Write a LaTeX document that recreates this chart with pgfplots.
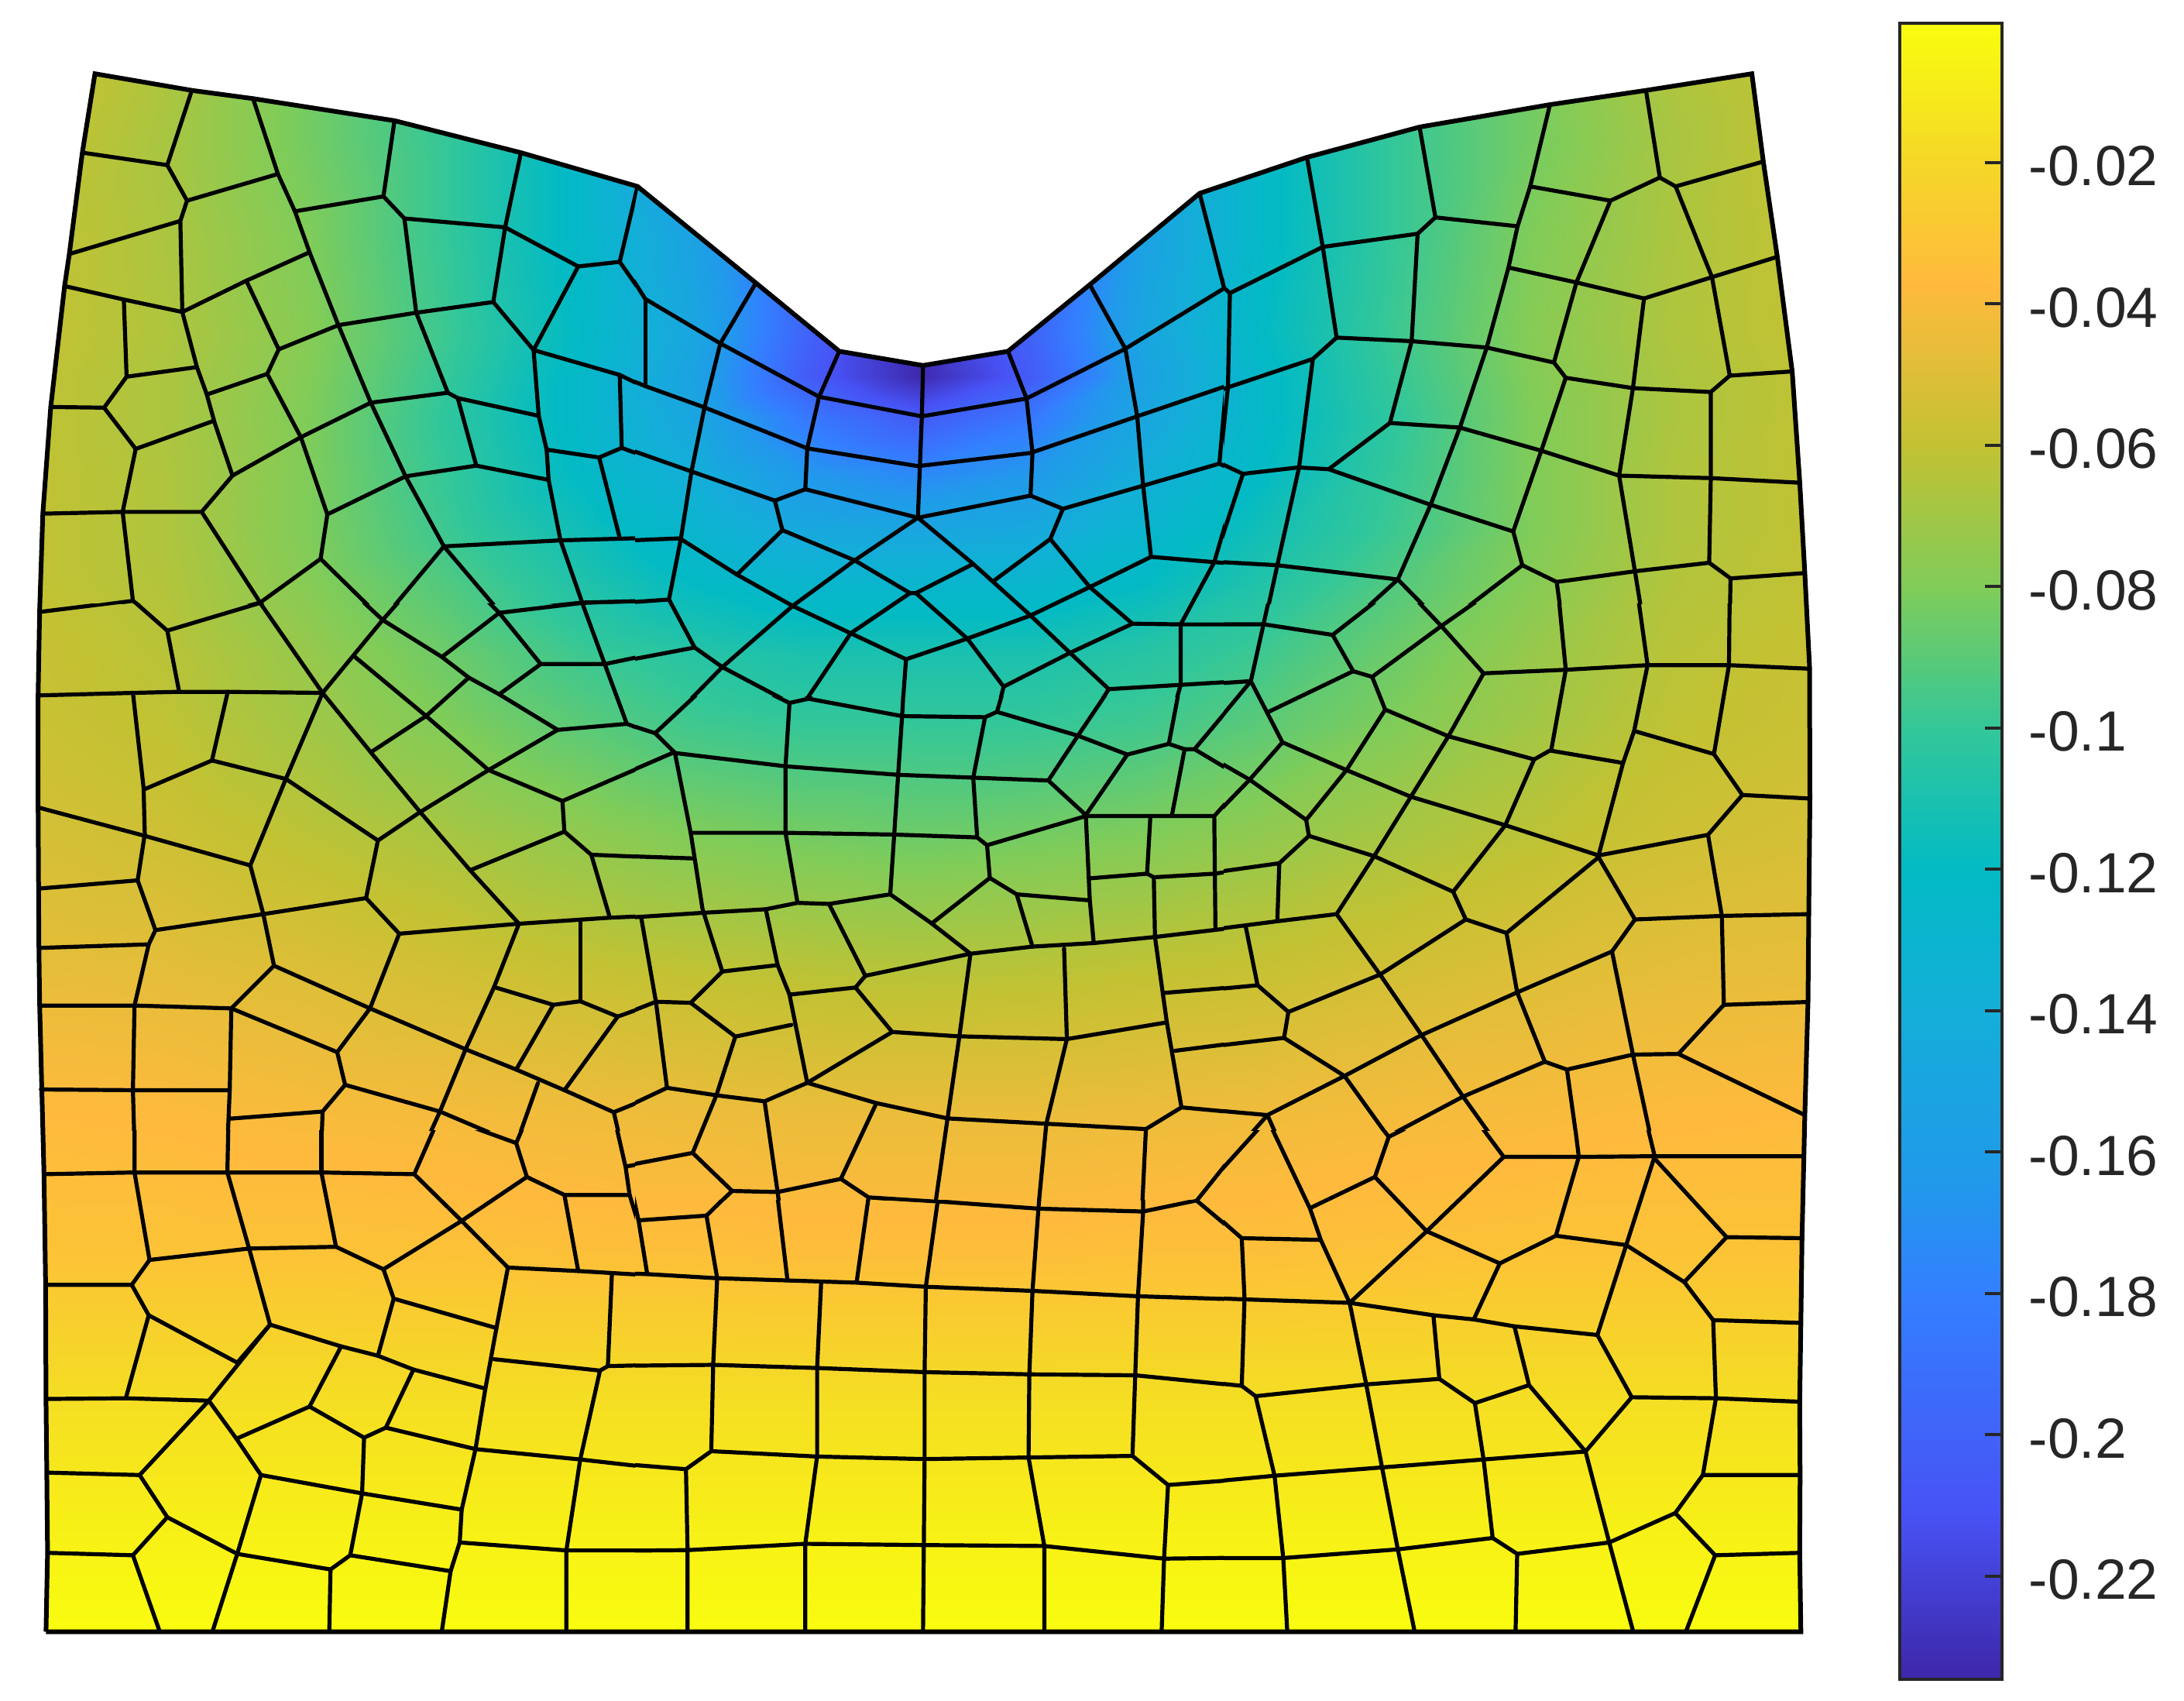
\documentclass[border=0pt]{standalone}
\usepackage{pgfplots}
\pgfplotsset{compat=1.18}
\usepackage{fontspec}
\setmainfont{Liberation Sans}
\definecolor{bargray}{rgb}{0.15,0.15,0.15}
\pgfplotsset{
  colormap={parula}{rgb(0pt)=(.2422,.1504,.6603) rgb(100pt)=(.2810,.3228,.9578) rgb(233pt)=(.2,.5,1) rgb(300pt)=(.13,.6,.92) rgb(400pt)=(.08,.68,.85) rgb(488pt)=(.01,.73,.77) rgb(574pt)=(.2,.78,.6) rgb(659pt)=(.5,.8,.35) rgb(744pt)=(.76,.76,.2) rgb(842pt)=(1,.73,.24) rgb(920pt)=(.96,.85,.15) rgb(1000pt)=(.976,.995,.055)},
  ml/.style={black,line width=1.3pt,line join=round,line cap=round,no marks,forget plot},
  sheet/.style={anchor=south west,scale only axis,y dir=reverse,hide axis},
}
% mesh lines are typed in the coordinates of nine crops of the picture
\newcommand{\seg}[4]{\addplot[ml,x filter/.expression={#1+x*800/1568},y filter/.expression={#2+y*#3/1568}] coordinates {#4};}
\newcommand{\ca}[1]{\seg{40}{80}{720}{#1}}
\newcommand{\cb}[1]{\seg{800}{200}{720}{#1}}
\newcommand{\cc}[1]{\seg{1560}{80}{720}{#1}}
\newcommand{\cd}[1]{\seg{40}{760}{720}{#1}}
\newcommand{\ce}[1]{\seg{800}{880}{720}{#1}}
\newcommand{\cf}[1]{\seg{1560}{760}{720}{#1}}
\newcommand{\cg}[1]{\seg{40}{1440}{700}{#1}}
\newcommand{\ch}[1]{\seg{800}{1500}{640}{#1}}
\newcommand{\ci}[1]{\seg{1560}{1440}{700}{#1}}
\begin{document}
\begin{tikzpicture}
\useasboundingbox (0,0) rectangle (705pt,549pt);
\begin{axis}[sheet,at={(0,0)},width=705pt,height=549pt,xmin=0,xmax=2820,ymin=0,ymax=2196,
  point meta min=-0.2346,point meta max=-0.0003,colormap name=parula]
% displacement field
\addplot[surf,shader=interp,mesh/cols=15,point meta=explicit,forget plot] table[row sep=\\,x index=0,y index=1,meta index=2]{
36 72 -.058\\216 72 -.066\\396 72 -.083\\576 72 -.1\\755 72 -.12\\899 72 -.16\\1043 72 -.2\\1187 72 -.23\\1331 72 -.2\\1475 72 -.16\\1619 72 -.12\\1799 72 -.1\\1978 72 -.083\\2158 72 -.066\\2356 72 -.058\\
36 180 -.058\\216 180 -.068\\396 180 -.083\\576 180 -.1\\755 180 -.125\\899 180 -.165\\1043 180 -.205\\1187 180 -.235\\1331 180 -.205\\1475 180 -.165\\1619 180 -.125\\1799 180 -.1\\1978 180 -.083\\2158 180 -.068\\2356 180 -.058\\
36 306 -.059\\216 306 -.067\\396 306 -.08\\576 306 -.1\\755 306 -.125\\899 306 -.155\\1043 306 -.2\\1187 306 -.23\\1331 306 -.2\\1475 306 -.155\\1619 306 -.125\\1799 306 -.1\\1978 306 -.08\\2158 306 -.067\\2356 306 -.059\\
36 432 -.059\\216 432 -.066\\396 432 -.078\\576 432 -.098\\755 432 -.122\\899 432 -.15\\1043 432 -.2\\1187 432 -.233\\1331 432 -.2\\1475 432 -.15\\1619 432 -.122\\1799 432 -.098\\1978 432 -.078\\2158 432 -.066\\2356 432 -.059\\
36 486 -.06\\216 486 -.067\\396 486 -.079\\576 486 -.1\\755 486 -.125\\899 486 -.155\\1043 486 -.205\\1187 486 -.233\\1331 486 -.205\\1475 486 -.155\\1619 486 -.125\\1799 486 -.1\\1978 486 -.079\\2158 486 -.067\\2356 486 -.06\\
36 540 -.06\\216 540 -.067\\396 540 -.08\\576 540 -.102\\755 540 -.125\\899 540 -.15\\1043 540 -.185\\1187 540 -.205\\1331 540 -.185\\1475 540 -.15\\1619 540 -.125\\1799 540 -.102\\1978 540 -.08\\2158 540 -.067\\2356 540 -.06\\
36 611 -.06\\216 611 -.066\\396 611 -.08\\576 611 -.1\\755 611 -.122\\899 611 -.14\\1043 611 -.165\\1187 611 -.175\\1331 611 -.165\\1475 611 -.14\\1619 611 -.122\\1799 611 -.1\\1978 611 -.08\\2158 611 -.066\\2356 611 -.06\\
36 683 -.06\\216 683 -.066\\396 683 -.08\\576 683 -.098\\755 683 -.115\\899 683 -.13\\1043 683 -.147\\1187 683 -.15\\1331 683 -.147\\1475 683 -.13\\1619 683 -.115\\1799 683 -.098\\1978 683 -.08\\2158 683 -.066\\2356 683 -.06\\
36 755 -.06\\216 755 -.065\\396 755 -.078\\576 755 -.092\\755 755 -.108\\899 755 -.12\\1043 755 -.128\\1187 755 -.128\\1331 755 -.128\\1475 755 -.12\\1619 755 -.108\\1799 755 -.092\\1978 755 -.078\\2158 755 -.065\\2356 755 -.06\\
36 845 -.058\\216 845 -.063\\396 845 -.073\\576 845 -.085\\755 845 -.098\\899 845 -.105\\1043 845 -.11\\1187 845 -.11\\1331 845 -.11\\1475 845 -.105\\1619 845 -.098\\1799 845 -.085\\1978 845 -.073\\2158 845 -.063\\2356 845 -.058\\
36 935 -.057\\216 935 -.061\\396 935 -.07\\576 935 -.08\\755 935 -.09\\899 935 -.097\\1043 935 -.1\\1187 935 -.1\\1331 935 -.1\\1475 935 -.097\\1619 935 -.09\\1799 935 -.08\\1978 935 -.07\\2158 935 -.061\\2356 935 -.057\\
36 1079 -.053\\216 1079 -.056\\396 1079 -.062\\576 1079 -.068\\755 1079 -.075\\899 1079 -.08\\1043 1079 -.083\\1187 1079 -.085\\1331 1079 -.083\\1475 1079 -.08\\1619 1079 -.075\\1799 1079 -.068\\1978 1079 -.062\\2158 1079 -.056\\2356 1079 -.053\\
36 1259 -.046\\216 1259 -.047\\396 1259 -.05\\576 1259 -.054\\755 1259 -.058\\899 1259 -.06\\1043 1259 -.062\\1187 1259 -.063\\1331 1259 -.062\\1475 1259 -.06\\1619 1259 -.058\\1799 1259 -.054\\1978 1259 -.05\\2158 1259 -.047\\2356 1259 -.046\\
36 1439 -.037\\216 1439 -.038\\396 1439 -.04\\576 1439 -.041\\755 1439 -.043\\899 1439 -.044\\1043 1439 -.045\\1187 1439 -.045\\1331 1439 -.045\\1475 1439 -.044\\1619 1439 -.043\\1799 1439 -.041\\1978 1439 -.04\\2158 1439 -.038\\2356 1439 -.037\\
36 1618 -.032\\216 1618 -.032\\396 1618 -.032\\576 1618 -.033\\755 1618 -.034\\899 1618 -.034\\1043 1618 -.035\\1187 1618 -.035\\1331 1618 -.035\\1475 1618 -.034\\1619 1618 -.034\\1799 1618 -.033\\1978 1618 -.032\\2158 1618 -.032\\2356 1618 -.032\\
36 1798 -.017\\216 1798 -.017\\396 1798 -.017\\576 1798 -.017\\755 1798 -.017\\899 1798 -.017\\1043 1798 -.017\\1187 1798 -.017\\1331 1798 -.017\\1475 1798 -.017\\1619 1798 -.017\\1799 1798 -.017\\1978 1798 -.017\\2158 1798 -.017\\2356 1798 -.017\\
36 1978 -.007\\216 1978 -.007\\396 1978 -.007\\576 1978 -.007\\755 1978 -.007\\899 1978 -.007\\1043 1978 -.007\\1187 1978 -.007\\1331 1978 -.007\\1475 1978 -.007\\1619 1978 -.007\\1799 1978 -.007\\1978 1978 -.007\\2158 1978 -.007\\2356 1978 -.007\\
36 2122 -.0005\\216 2122 -.0005\\396 2122 -.0005\\576 2122 -.0005\\755 2122 -.0005\\899 2122 -.0005\\1043 2122 -.0005\\1187 2122 -.0005\\1331 2122 -.0005\\1475 2122 -.0005\\1619 2122 -.0005\\1799 2122 -.0005\\1978 2122 -.0005\\2158 2122 -.0005\\2356 2122 -.0005\\
};
% white mask outside the deformed outline
\addplot[fill=white,draw=none,forget plot] coordinates {
(20,2106.5)(20,2150)(2370,2150)(2370,40)(20,40)(20,2106.5)
(59.4,2106.5)(61.4,2004.7)(60.4,1899.8)(59.4,1806)(58.9,1658.7)(56.8,1515.9)(51.2,1297.3)(50.2,1219.2)(49.2,1040.1)(49.2,897.8)(51.2,787.6)(55.3,663.2)(65.5,525.4)(83.4,369.3)(89.5,328)(106.3,197.1)(122.6,95.2)
(247.7,116.7)(326.7,127.3)(509.4,155.8)(672.6,197.1)(823.2,240.7)(976,365.3)(1083.7,453.5)(1191.8,471.8)(1301.5,453.5)(1407.1,367.6)(1549,249.6)(1687.6,203.1)(1833,164)(2001.3,135.1)(2125.3,116.7)(2262,95.2)
(2276.8,208.6)(2294.7,330.3)(2314.1,479.5)(2323.8,621.9)(2330.4,739.9)(2336.5,861)(2337,1030.9)(2335.5,1180.2)(2334.5,1292.7)(2330.4,1439.6)(2326.8,1597.1)(2325.3,1707.8)(2323.8,1810.5)(2324.3,1904.3)(2323.8,2004.7)(2325.3,2106.5)
(59.4,2106.5)(20,2106.5)
};
\end{axis}
% crop 1, top left
\begin{axis}[sheet,at={(10pt,354pt)},width=195pt,height=175pt,xmin=40,xmax=820,ymin=80,ymax=780]
\ca{(407,80)(345,290)(395,390)(378,447)(383,703)(420,858)(445,935)(465,1015)(510,1163)(432,1265)(580,1520)(620,1568)}
\ca{(130,255)(345,290)}
\ca{(395,390)(625,315)}
\ca{(562,103)(625,315)(668,420)(705,535)(778,740)(860,958)(948,1165)(1045,1362)(1185,1545)(1200,1568)}
\ca{(97,540)(378,447)}
\ca{(85,630)(235,668)(383,703)}
\ca{(235,668)(242,885)(420,858)}
\ca{(242,885)(185,972)(50,970)}
\ca{(185,972)(265,1088)(460,1010)}
\ca{(265,1088)(232,1265)}
\ca{(30,1270)(232,1265)(432,1265)}
\ca{(232,1265)(258,1515)(320,1568)}
\ca{(20,1550)(258,1515)}
\ca{(383,703)(545,615)(705,535)}
\ca{(545,615)(627,808)(778,740)}
\ca{(627,808)(598,877)(445,935)}
\ca{(598,877)(683,1055)(750,1272)(733,1397)(580,1520)(420,1568)}
\ca{(733,1397)(890,1568)(1045,1362)}
\ca{(683,1055)(860,958)}
\ca{(683,1055)(510,1163)}
\ca{(750,1272)(948,1165)}
\ca{(668,420)(892,378)(920,165)}
\ca{(892,378)(945,440)(1200,465)(1240,255)}
\ca{(945,440)(975,705)(778,740)}
\ca{(975,705)(1170,675)}
\ca{(1200,465)(1170,675)(1272,810)}
\ca{(975,705)(1055,930)(860,958)}
\ca{(1055,930)(1080,945)(1127,1135)(948,1165)}
\ca{(1080,945)(1285,995)}
\ca{(1127,1135)(1310,1175)}
\ca{(1200,465)(1385,575)(1490,562)(1535,350)}
\ca{(1385,575)(1272,810)(1490,880)(1555,915)}
\ca{(1490,562)(1555,665)(1568,670)}
\ca{(1555,665)(1550,915)}
\ca{(1272,810)(1285,995)(1305,1090)(1310,1175)(1340,1345)(1395,1520)(1410,1568)}
\ca{(1305,1090)(1438,1112)(1495,1085)(1568,1115)}
\ca{(1490,880)(1495,1085)}
\ca{(1438,1112)(1490,1338)}
\ca{(1045,1362)(1340,1345)(1568,1338)}
\ca{(1185,1545)(1395,1520)(1568,1515)}
\ca{(1185,1545)(1150,1568)}
\end{axis}
% crop 2, top middle
\begin{axis}[sheet,at={(205pt,324pt)},width=190pt,height=175pt,xmin=820,xmax=1580,ymin=200,ymax=900]
\cb{(42,95)(5,300)(65,405)(255,530)(505,680)(765,735)(1030,685)(1280,545)(1530,375)(1545,385)(1568,372)}
\cb{(345,360)(255,530)(215,710)(182,890)(155,1080)(125,1250)(190,1385)(260,1440)(430,1540)(430,1568)}
\cb{(556,552)(505,680)(475,825)(470,940)(393,972)(412,1055)(595,1140)(735,1232)(750,1232)(895,1150)}
\cb{(412,1055)(297,1180)}
\cb{(735,1232)(585,1345)(725,1418)(880,1360)(1040,1295)(1190,1215)(1345,1130)(1505,1145)(1568,1150)}
\cb{(755,1020)(595,1140)(438,1268)(260,1440)(147,1568)}
\cb{(755,1020)(895,1150)(1040,1295)(1140,1400)(1238,1502)(1200,1568)}
\cb{(750,1232)(880,1360)(972,1495)(955,1568)}
\cb{(1122,995)(1090,1080)(950,1195)}
\cb{(1090,1080)(1190,1215)(1298,1318)(1420,1320)(1568,1320)}
\cb{(1298,1318)(1140,1400)(972,1495)}
\cb{(1420,1320)(1420,1490)(1400,1568)}
\cb{(1238,1502)(1420,1490)(1568,1480)}
\cb{(1420,1320)(1505,1145)(1568,905)}
\cb{(155,1080)(297,1180)(438,1268)(585,1345)}
\cb{(0,1085)(155,1078)}
\cb{(0,1260)(125,1250)}
\cb{(0,1425)(190,1385)}
\cb{(430,1540)(475,1528)(585,1345)}
\cb{(475,1528)(700,1568)}
\cb{(725,1418)(715,1568)}
\cb{(0,620)(65,650)(215,710)(475,825)(755,875)(1040,838)(1310,735)(1535,650)(1568,640)}
\cb{(65,405)(65,650)}
\cb{(0,620)(8,822)(182,890)(393,972)}
\cb{(470,940)(755,1020)(1040,958)(1122,995)(1325,930)(1518,868)(1568,895)}
\cb{(768,592)(765,735)(760,875)(755,1020)}
\cb{(983,552)(1030,685)(1045,838)(1040,958)}
\cb{(1190,365)(1280,545)(1310,735)(1325,930)(1345,1130)}
\cb{(1468,108)(1530,375)}
\cb{(1545,385)(1535,650)(1518,868)}
\end{axis}
% crop 3, top right
\begin{axis}[sheet,at={(395pt,354pt)},width=195pt,height=175pt,xmin=1580,xmax=2360,ymin=80,ymax=780]
\cc{(0,440)(40,635)(55,650)(290,520)(530,483)(575,437)(783,462)}
\cc{(0,665)(40,635)}
\cc{(250,268)(290,520)(325,775)(515,785)(705,803)(875,845)(905,888)(1075,917)(1272,928)(1320,882)(1478,870)}
\cc{(535,183)(575,437)}
\cc{(530,483)(515,785)(460,1015)(637,1028)(843,1093)(1040,1163)(1272,1170)(1497,1183)}
\cc{(865,120)(815,350)(783,462)(760,578)(705,803)(637,1028)(563,1245)(480,1455)(368,1568)}
\cc{(815,350)(1018,390)(1143,325)(1183,350)(1405,280)}
\cc{(1108,80)(1143,325)}
\cc{(1183,350)(1275,605)(1320,882)}
\cc{(1018,390)(932,620)(875,845)}
\cc{(760,578)(932,620)(1103,665)(1275,605)(1440,548)}
\cc{(1103,665)(1075,917)(1040,1163)(1080,1432)(1100,1568)}
\cc{(1272,928)(1272,1170)(1268,1408)(1322,1452)(1320,1568)}
\cc{(1322,1452)(1510,1437)}
\cc{(1268,1408)(1080,1432)(882,1462)(795,1415)(772,1320)(843,1093)(905,888)}
\cc{(772,1320)(563,1245)(305,1145)(228,1140)(88,1158)(30,1128)(0,1135)}
\cc{(795,1415)(614,1568)}
\cc{(882,1462)(895,1568)}
\cc{(460,1015)(305,1145)}
\cc{(265,835)(230,1140)(175,1415)(145,1568)}
\cc{(325,775)(265,835)(50,915)(0,935)}
\cc{(55,650)(50,915)(30,1128)}
\cc{(88,1158)(15,1405)(0,1450)}
\cc{(15,1405)(175,1415)(480,1455)(580,1568)}
\end{axis}
% crop 4, middle left
\begin{axis}[sheet,at={(10pt,184pt)},width=195pt,height=170pt,xmin=40,xmax=820,ymin=780,ymax=1460]
\cd{(25,65)(258,33)(255,0)}
\cd{(258,33)(345,118)(580,40)(640,0)}
\cd{(345,118)(375,290)}
\cd{(580,40)(550,0)}
\cd{(580,40)(738,293)(860,460)(985,628)(1110,790)(1235,942)}
\cd{(22,300)(258,293)(375,290)(498,290)(738,293)}
\cd{(258,293)(285,560)(288,690)(270,820)(315,960)(298,1000)(262,1172)(258,1410)(262,1568)}
\cd{(498,290)(458,483)(285,565)}
\cd{(458,483)(645,535)(738,293)}
\cd{(645,535)(555,778)(588,915)(615,1060)(507,1180)(503,1410)(497,1568)}
\cd{(645,535)(878,708)(985,628)(1158,510)(1333,397)(1508,380)(1568,405)}
\cd{(18,615)(288,695)(555,778)}
\cd{(878,708)(848,870)(932,970)(1235,942)(1465,925)(1568,920)}
\cd{(848,870)(588,915)(315,960)}
\cd{(22,843)(270,820)}
\cd{(22,1010)(298,1000)}
\cd{(22,1172)(262,1172)(507,1180)(775,1303)(795,1395)(738,1470)(735,1568)}
\cd{(505,1490)(738,1470)}
\cd{(25,1408)(258,1410)(503,1410)}
\cd{(932,970)(858,1180)(775,1303)}
\cd{(615,1060)(858,1180)(1100,1295)(1228,1352)(1350,1410)(1475,1472)(1568,1430)}
\cd{(1235,942)(1172,1120)(1100,1295)(1035,1470)(995,1568)}
\cd{(1172,1120)(1322,1170)(1228,1352)}
\cd{(1322,1170)(1390,1160)(1485,1203)(1350,1410)}
\cd{(1390,1160)(1390,935)}
\cd{(1485,1203)(1568,1170)}
\cd{(795,1395)(1035,1470)(1230,1562)}
\cd{(1283,1390)(1228,1562)}
\cd{(1475,1472)(1495,1568)}
\cd{(738,293)(890,88)(960,0)}
\cd{(890,88)(805,0)}
\cd{(890,88)(1040,192)(1108,250)(1185,297)(1333,397)}
\cd{(818,190)(1000,358)(1158,510)(1345,597)(1350,683)(1115,790)}
\cd{(860,460)(1000,358)(1108,250)}
\cd{(1040,192)(1185,68)(1125,0)}
\cd{(1185,68)(1290,212)(1185,297)}
\cd{(1290,212)(1452,212)(1395,40)(1380,0)}
\cd{(1185,68)(1395,40)(1568,33)}
\cd{(1452,212)(1568,185)}
\cd{(1452,212)(1508,380)}
\cd{(1345,597)(1568,490)}
\cd{(1350,683)(1418,748)(1568,755)}
\cd{(1418,748)(1465,925)}
\cd{(1545,925)(1568,1110)}
\end{axis}
% crop 5, centre
\begin{axis}[sheet,at={(205pt,161.5pt)},width=190pt,height=162.5pt,xmin=820,xmax=1580,ymin=900,ymax=1550]
\ce{(230,0)(90,145)(20,120)(0,50)}
\ce{(90,145)(140,200)}
\ce{(0,265)(135,200)(420,238)(705,262)(895,270)(1085,278)(1180,375)}
\ce{(320,0)(430,60)(478,48)(715,97)(925,100)(955,85)(1160,152)(1285,205)(1390,175)(1430,190)(1455,190)(1568,265)}
\ce{(510,0)(478,48)}
\ce{(430,60)(420,238)(420,425)(450,620)}
\ce{(720,0)(715,97)(705,262)(695,430)(685,598)}
\ce{(925,100)(895,270)(905,438)(930,460)(937,552)(1005,598)(1045,745)}
\ce{(975,10)(955,85)}
\ce{(1240,20)(1160,152)(1085,278)}
\ce{(1285,205)(1180,375)}
\ce{(1210,0)(1240,20)(1420,5)(1568,0)}
\ce{(1420,0)(1390,175)}
\ce{(1430,190)(1398,375)}
\ce{(1455,190)(1568,40)}
\ce{(140,200)(180,425)(210,640)(260,815)(180,903)(92,900)(55,665)}
\ce{(180,425)(420,425)(695,430)(905,438)}
\ce{(0,490)(185,497)}
\ce{(0,665)(210,650)(370,640)(450,622)(530,625)(685,598)(790,680)(888,765)(1045,745)(1200,735)(1355,718)(1568,690)}
\ce{(790,680)(937,552)}
\ce{(930,460)(1180,378)(1398,378)(1505,378)(1568,300)}
\ce{(1180,378)(1190,615)(1200,735)}
\ce{(1343,385)(1335,540)(1352,550)(1355,718)}
\ce{(1190,553)(1335,540)}
\ce{(1352,550)(1505,540)(1568,530)}
\ce{(1505,378)(1508,695)}
\ce{(1005,598)(1190,615)}
\ce{(370,640)(400,797)(430,880)(475,1128)(367,1180)(245,1163)(120,1142)(92,900)}
\ce{(400,797)(260,815)}
\ce{(430,880)(597,860)}
\ce{(530,625)(622,827)(597,860)(690,985)}
\ce{(622,827)(888,765)}
\ce{(180,903)(293,998)(245,1163)(185,1325)(20,1360)}
\ce{(293,998)(435,965)}
\ce{(185,1325)(285,1432)(220,1500)(50,1517)}
\ce{(285,1432)(400,1435)(560,1398)(630,1450)(800,1462)(1060,1478)(1322,1490)(1460,1460)(1568,1550)}
\ce{(120,1142)(0,1205)}
\ce{(92,900)(0,940)}
\ce{(690,985)(475,1128)(650,1185)(830,1228)(1080,1243)(1332,1258)(1422,1197)(1568,1212)}
\ce{(690,985)(855,997)(1132,1005)(1385,958)}
\ce{(888,765)(860,997)(830,1228)(800,1462)(790,1568)}
\ce{(1125,750)(1132,1005)(1080,1243)(1060,1478)(1055,1568)}
\ce{(1355,718)(1385,958)(1422,1197)}
\ce{(1380,875)(1568,858)}
\ce{(1405,1038)(1568,1015)}
\ce{(367,1180)(400,1435)(415,1568)}
\ce{(650,1185)(560,1398)}
\ce{(630,1450)(615,1568)}
\ce{(1332,1258)(1322,1490)(1318,1568)}
\ce{(1460,1460)(1568,1310)}
\ce{(0,1260)(48,1520)(55,1568)}
\ce{(0,1440)(20,1440)}
\ce{(220,1500)(232,1568)}
\end{axis}
% crop 6, middle right
\begin{axis}[sheet,at={(395pt,184pt)},width=195pt,height=170pt,xmin=1580,xmax=2360,ymin=780,ymax=1460]
\cf{(160,0)(140,100)(0,100)}
\cf{(140,100)(315,130)(465,0)}
\cf{(315,130)(367,232)(415,248)(590,105)(725,0)}
\cf{(500,0)(590,105)(697,238)(905,228)(1112,215)(1318,215)(1520,225)}
\cf{(140,100)(108,260)(0,268)}
\cf{(108,260)(188,432)(105,537)(15,640)(15,950)}
\cf{(108,260)(0,405)}
\cf{(367,232)(155,345)}
\cf{(415,248)(448,340)(350,510)(248,650)(255,695)(180,772)(175,935)}
\cf{(0,800)(180,772)}
\cf{(188,432)(350,510)(513,585)(752,665)(988,750)}
\cf{(448,340)(608,415)(825,480)(865,455)(1050,490)}
\cf{(697,238)(608,415)(513,585)(420,752)(325,915)(435,1085)(540,1255)(645,1428)(735,1568)}
\cf{(885,0)(905,228)(868,455)}
\cf{(1085,0)(1112,215)(1078,400)(1050,490)(988,750)}
\cf{(1320,0)(1318,215)(1280,465)(1078,400)}
\cf{(1280,465)(1352,580)(1265,692)(988,750)}
\cf{(1352,580)(1522,590)}
\cf{(825,480)(752,665)(620,852)(652,930)(755,968)(988,755)}
\cf{(105,537)(248,650)}
\cf{(0,470)(105,537)}
\cf{(255,695)(420,752)(620,852)}
\cf{(652,930)(435,1085)(203,1190)(125,1115)(0,1128)}
\cf{(0,960)(175,935)(325,915)}
\cf{(95,950)(125,1115)}
\cf{(203,1190)(192,1263)(0,1288)}
\cf{(192,1263)(345,1370)(150,1480)(0,1465)}
\cf{(755,968)(782,1135)(540,1255)(345,1370)(455,1540)(450,1568)}
\cf{(988,755)(1080,930)(1022,1020)(782,1135)(852,1330)(645,1428)(455,1540)}
\cf{(852,1330)(908,1352)(1075,1310)(1190,1308)(1305,1170)(1300,920)(1265,692)}
\cf{(1080,930)(1300,920)(1520,915)}
\cf{(1305,1170)(1518,1162)}
\cf{(1022,1020)(1075,1310)(1125,1568)}
\cf{(1190,1308)(1510,1480)}
\cf{(908,1352)(935,1568)}
\cf{(150,1480)(80,1568)}
\cf{(150,1480)(185,1568)}
\end{axis}
% crop 7, bottom left
\begin{axis}[sheet,at={(10pt,14pt)},width=195pt,height=170pt,xmin=40,xmax=820,ymin=1460,ymax=2140]
\cg{(33,170)(262,165)(497,165)(735,165)(970,170)(1035,0)}
\cg{(262,0)(262,165)(300,418)(255,490)(37,490)}
\cg{(255,490)(298,578)(240,818)}
\cg{(300,418)(552,385)(772,380)(892,445)(1090,305)(1255,178)(1228,80)(1258,0)}
\cg{(1228,80)(1035,0)}
\cg{(497,165)(552,385)(605,605)(522,715)(298,578)}
\cg{(605,605)(450,825)(275,1040)(345,1162)(258,1272)(325,1490)}
\cg{(38,820)(240,818)(450,825)}
\cg{(735,165)(772,380)}
\cg{(970,170)(1090,305)(1207,440)(1178,615)(1150,790)(1125,965)(1090,1140)(1085,1235)(1062,1318)(1040,1490)}
\cg{(892,445)(918,530)(878,695)}
\cg{(918,530)(1178,615)}
\cg{(605,605)(785,668)(878,695)(968,735)(1150,790)}
\cg{(785,668)(705,842)(520,935)}
\cg{(705,842)(843,932)(898,903)(968,735)}
\cg{(843,932)(838,1093)}
\cg{(450,825)(520,935)(582,1040)(838,1093)(1090,1140)}
\cg{(582,1040)(522,1268)(460,1490)}
\cg{(345,1162)(522,1268)(758,1313)(808,1272)(838,1093)}
\cg{(808,1272)(1062,1318)}
\cg{(758,1313)(755,1490)}
\cg{(42,1033)(275,1040)}
\cg{(42,1265)(258,1272)}
\cg{(898,903)(1125,965)(1390,995)(1568,1018)}
\cg{(1255,178)(1350,230)(1515,230)}
\cg{(1350,230)(1385,450)}
\cg{(1207,440)(1385,450)(1560,462)}
\cg{(1475,0)(1505,150)(1515,230)(1535,305)(1558,460)}
\cg{(1505,148)(1568,135)}
\cg{(1535,305)(1568,300)}
\cg{(1172,705)(1440,738)(1460,725)(1568,722)}
\cg{(1470,462)(1460,725)}
\cg{(1440,738)(1390,995)(1355,1258)(1355,1490)}
\cg{(1085,1235)(1355,1258)(1568,1258)}
\cg{(500,0)(497,165)}
\cg{(735,0)(735,165)}
\end{axis}
% crop 8, bottom middle
\begin{axis}[sheet,at={(205pt,14pt)},width=190pt,height=147.5pt,xmin=820,xmax=1580,ymin=1550,ymax=2140]
\ch{(205,0)(285,90)(220,170)(48,185)(15,0)}
\ch{(48,185)(70,355)}
\ch{(285,90)(398,92)(560,55)(630,112)(805,125)(1060,148)(1325,157)(1460,122)(1568,235)}
\ch{(385,0)(398,92)(425,375)}
\ch{(585,0)(560,55)}
\ch{(630,112)(600,380)}
\ch{(820,0)(805,125)(775,395)}
\ch{(1070,0)(1060,148)(1045,408)}
\ch{(1325,0)(1325,157)(1312,425)}
\ch{(1460,122)(1535,0)}
\ch{(220,170)(247,368)}
\ch{(0,352)(70,355)(247,368)(425,375)(600,382)(775,395)(1045,408)(1312,425)(1568,435)}
\ch{(247,368)(237,640)(232,915)(168,972)(172,1225)(172,1480)}
\ch{(510,385)(500,650)(500,930)(470,1208)(470,1480)}
\ch{(775,395)(772,665)(772,940)(770,1210)(768,1480)}
\ch{(1045,408)(1037,672)(1035,935)(1075,1215)(1075,1480)}
\ch{(1312,425)(1305,675)(1298,930)(1388,1022)(1378,1255)(1372,1480)}
\ch{(0,645)(237,642)(500,652)(772,665)(1037,672)(1305,675)(1568,708)}
\ch{(0,955)(168,972)}
\ch{(232,915)(500,932)(772,940)(1035,935)(1298,930)}
\ch{(1388,1022)(1568,1005)}
\ch{(0,1230)(172,1228)(470,1208)(770,1212)(1075,1215)(1378,1255)(1568,1252)}
\ch{(0,100)(20,100)}
\end{axis}
% crop 9, bottom right
\begin{axis}[sheet,at={(395pt,14pt)},width=195pt,height=170pt,xmin=1580,xmax=2360,ymin=1460,ymax=2140]
\ci{(150,10)(258,270)(285,360)(358,542)(553,335)(748,120)(938,120)(1130,118)(1505,118)}
\ci{(150,10)(0,200)}
\ci{(415,0)(457,62)(422,178)(258,268)}
\ci{(457,62)(565,0)}
\ci{(670,0)(748,120)}
\ci{(422,178)(553,335)(738,428)(880,348)(1058,375)(1205,482)(1312,352)(1130,125)}
\ci{(1130,118)(1058,375)(985,635)(1072,815)(955,972)}
\ci{(358,542)(570,578)(672,590)(775,610)(985,635)}
\ci{(570,578)(585,762)(400,778)(120,812)(85,782)(0,772)}
\ci{(738,428)(672,590)}
\ci{(85,355)(285,360)}
\ci{(0,270)(85,355)(92,530)(85,782)}
\ci{(0,528)(92,532)(358,542)}
\ci{(358,542)(400,778)(440,1018)(480,1255)(522,1490)}
\ci{(585,762)(675,832)(812,780)}
\ci{(775,610)(812,780)(955,972)(1015,1235)(1075,1490)}
\ci{(675,832)(697,995)(720,1222)(782,1268)(778,1490)}
\ci{(955,972)(697,995)(440,1018)(168,1042)(0,1060)}
\ci{(120,812)(168,1042)(190,1280)(200,1490)}
\ci{(0,1280)(190,1280)(480,1255)(720,1222)}
\ci{(782,1268)(1015,1235)(1182,1150)(1252,1040)(1498,1040)}
\ci{(1182,1150)(1283,1272)(1210,1490)}
\ci{(1283,1272)(1497,1265)}
\ci{(1252,1040)(1285,818)(1278,592)(1205,482)}
\ci{(1072,815)(1285,818)(1497,828)}
\ci{(1278,592)(1500,600)}
\ci{(1312,352)(1503,355)}
\ci{(938,120)(880,348)}
\ci{(938,120)(925,0)}
\ci{(1130,118)(1105,0)}
\end{axis}
% outline
\begin{axis}[sheet,at={(0,0)},width=705pt,height=549pt,xmin=0,xmax=2820,ymin=0,ymax=2196]
\addplot[black,line width=1.5pt,line join=miter,no marks,forget plot] coordinates {
(59.4,2106.5)(61.4,2004.7)(60.4,1899.8)(59.4,1806)(58.9,1658.7)(56.8,1515.9)(51.2,1297.3)(50.2,1219.2)(49.2,1040.1)(49.2,897.8)(51.2,787.6)(55.3,663.2)(65.5,525.4)(83.4,369.3)(89.5,328)(106.3,197.1)(122.6,95.2)
(247.7,116.7)(326.7,127.3)(509.4,155.8)(672.6,197.1)(823.2,240.7)(976,365.3)(1083.7,453.5)(1191.8,471.8)(1301.5,453.5)(1407.1,367.6)(1549,249.6)(1687.6,203.1)(1833,164)(2001.3,135.1)(2125.3,116.7)(2262,95.2)
(2276.8,208.6)(2294.7,330.3)(2314.1,479.5)(2323.8,621.9)(2330.4,739.9)(2336.5,861)(2337,1030.9)(2335.5,1180.2)(2334.5,1292.7)(2330.4,1439.6)(2326.8,1597.1)(2325.3,1707.8)(2323.8,1810.5)(2324.3,1904.3)(2323.8,2004.7)(2325.3,2106.5)
(59.4,2106.5)
};
\end{axis}
% colour bar
\begin{axis}[
  at={(613.25pt,7pt)},anchor=south west,scale only axis,width=33pt,height=534.5pt,
  xmin=0,xmax=1,ymin=-0.2346,ymax=-0.0003,
  point meta min=-0.2346,point meta max=-0.0003,colormap name=parula,
  xtick=\empty,ytick pos=right,ytick align=inside,
  ytick={-0.22,-0.2,-0.18,-0.16,-0.14,-0.12,-0.1,-0.08,-0.06,-0.04,-0.02},
  yticklabels={-0.22,-0.2,-0.18,-0.16,-0.14,-0.12,-0.1,-0.08,-0.06,-0.04,-0.02},
  yticklabel pos=right,
  major tick length=5.5pt,
  every tick/.style={bargray,line width=1pt},
  axis line style={bargray,line width=1pt},
  yticklabel style={font=\fontsize{18.3}{20}\selectfont,text=bargray,anchor=west,inner sep=0pt,xshift=8.5pt,yshift=-1.2pt},
  axis on top,
]
\addplot[surf,shader=interp,mesh/cols=2,point meta=explicit] table[row sep=\\,x index=0,y index=1,meta index=2]{
0 -0.2346 -0.2346\\1 -0.2346 -0.2346\\
0 -0.0003 -0.0003\\1 -0.0003 -0.0003\\
};
\end{axis}
\end{tikzpicture}
\end{document}
